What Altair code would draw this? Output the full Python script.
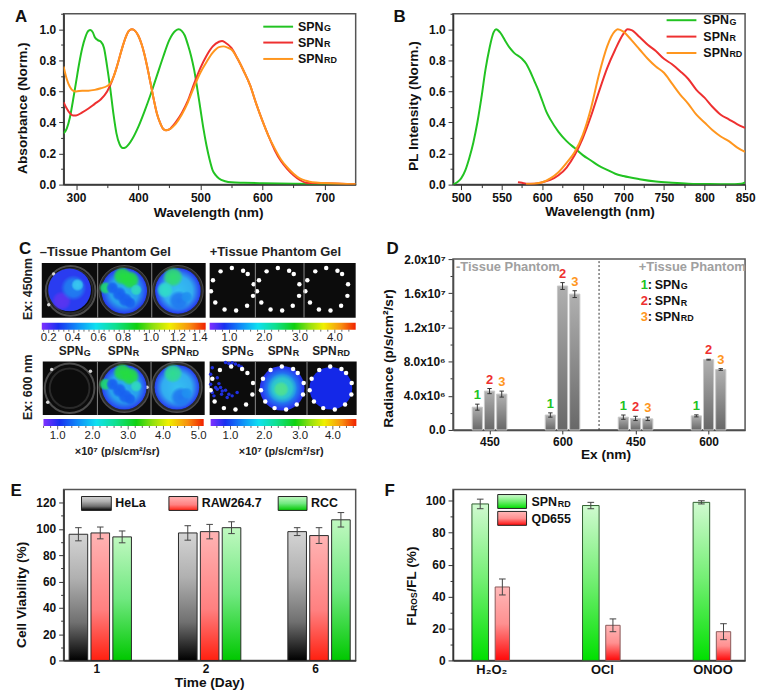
import altair as alt
import pandas as pd

FONT = "Liberation Sans"
GREEN, RED, ORANGE = "#22c322", "#ee3030", "#ff961e"
FRAME = "#555555"
W, H, H2 = 294, 172, 187

# Panel A
a_g_x = [280,285,290,295,300,305,310,315,320,323,327,330,335,340,345,350,355,360,365,370,375,380,385,390,400,410,420,430,440,450,460,465,470,475,480,485,490,495,500,505,510,515,520,525,530,540,550,570,600,650,700,750]
a_g_y = [.33,.36,.43,.54,.66,.78,.88,.95,.99,.995,.98,.95,.93,.92,.88,.76,.62,.46,.33,.26,.235,.24,.26,.29,.37,.47,.58,.70,.82,.93,.99,1.0,.99,.96,.90,.83,.74,.62,.49,.36,.25,.16,.09,.06,.04,.022,.015,.012,.009,.005,.003,0]
a_r_x = [280,285,290,295,300,310,320,330,340,350,355,360,365,370,375,380,385,390,395,400,405,410,415,420,425,430,435,440,445,450,455,460,470,480,490,500,510,520,530,535,540,550,560,570,580,590,600,610,620,630,640,650,660,670,680,700,750]
a_r_y = [.53,.49,.46,.445,.445,.465,.49,.52,.55,.60,.64,.69,.75,.82,.89,.95,.99,1.0,.99,.96,.91,.84,.75,.65,.55,.46,.40,.36,.35,.355,.375,.40,.46,.54,.65,.75,.83,.89,.92,.925,.915,.88,.81,.73,.64,.52,.41,.31,.22,.15,.10,.06,.03,.012,.01,.008,.002]
a_d_x = [280,285,290,295,300,310,320,330,340,350,355,360,365,370,375,380,385,390,395,400,405,410,415,420,425,430,435,440,445,450,455,460,470,480,490,500,510,520,530,537,545,550,560,570,580,590,600,610,620,630,640,650,660,670,680,700,750]
a_d_y = [.76,.68,.63,.605,.60,.605,.605,.61,.62,.635,.65,.69,.75,.82,.89,.95,.99,1.0,.99,.96,.91,.84,.75,.65,.55,.46,.40,.36,.35,.355,.37,.39,.45,.53,.63,.72,.79,.85,.885,.89,.88,.87,.81,.73,.64,.52,.41,.31,.23,.16,.11,.07,.04,.025,.015,.01,.002]

# Panel B
b_g_x = [490,495,500,505,510,515,520,525,530,535,540,543,548,555,560,565,575,580,585,590,595,600,605,610,620,630,640,650,660,670,680,690,700,720,740,760,780,800,830,845,850]
b_g_y = [0,.015,.04,.09,.17,.27,.40,.56,.74,.88,.98,1.0,.98,.92,.88,.85,.81,.78,.73,.67,.61,.54,.47,.42,.34,.28,.235,.19,.155,.12,.095,.07,.055,.035,.02,.012,.006,.004,.002,.006,.015]
b_r_x = [570,575,580,590,600,610,620,630,640,650,660,670,680,690,700,705,710,720,730,740,750,760,770,780,790,800,810,820,830,840,850]
b_r_y = [.015,.012,.006,.006,.015,.03,.06,.11,.19,.30,.44,.60,.75,.87,.97,1.0,.995,.95,.90,.86,.81,.775,.73,.68,.61,.56,.50,.45,.42,.39,.365]
b_d_x = [580,590,600,610,620,630,640,650,660,670,680,690,693,700,710,720,730,740,750,760,770,780,790,800,810,820,830,840,850]
b_d_y = [.004,.006,.015,.04,.08,.14,.21,.32,.49,.71,.89,.99,1.0,.985,.93,.87,.81,.76,.72,.65,.58,.52,.45,.40,.35,.31,.28,.24,.21]

# Panel D
d_groups = [0,0,0,1,1,1,2,2,2,3,3,3]
d_slot = [-1,0,1]*4
d_val = [2.67e6,4.55e6,4.2e6,1.75e6,16.85e6,15.9e6,1.5e6,1.35e6,1.3e6,1.65e6,8.23e6,7.08e6]
d_err = [.35e6,.3e6,.35e6,.25e6,.4e6,.4e6,.25e6,.25e6,.2e6,.12e6,.05e6,.1e6]
d_num = ["1","2","3"]*4
d_col = [GREEN,RED,ORANGE]*4
d_labels = ["450","600","450","600"]

# Panel E
e_val = [96,97,94,97,98,101,98,95,107]
e_err = [5,4.5,4.5,5.5,5.5,4.5,3,6,5.5]
e_days = ["1","2","6"]
e_names = ["HeLa","RAW264.7","RCC"]

# Panel F
f_green = [98,97,99]
f_green_err = [3,2,1]
f_red = [46,22,18]
f_red_err = [5,4,5]
f_names = ["H₂O₂","OCl","ONOO"]


def grad(stops):
    return alt.LinearGradient(gradient="linear", x1=0, x2=0, y1=0, y2=1,
                              stops=[alt.GradientStop(color=c, offset=o) for o, c in stops])

G_GRAY = grad([(0,"#d4d4d4"),(.35,"#b0b0b0"),(.7,"#707070"),(1,"#000000")])
G_RED = grad([(0,"#ffb4b4"),(.6,"#ff8080"),(1,"#ff2010")])
G_GREEN = grad([(0,"#c0f8c0"),(.5,"#70e880"),(1,"#00c800")])
F_GREEN = grad([(0,"#d0fad0"),(.5,"#70ee70"),(1,"#00e000")])
F_RED = grad([(0,"#ffb8b8"),(.5,"#ff9090"),(1,"#ff0808")])
D_GRAY = grad([(0,"#b0b0b0"),(1,"#686868")])
RAINBOW = alt.LinearGradient(gradient="linear", x1=0, x2=1, y1=0, y2=0, stops=[
    alt.GradientStop(color=c, offset=o) for o, c in
    [(0,"#8030ff"),(.1,"#1830f0"),(.22,"#1090f8"),(.33,"#10e0f0"),(.45,"#10e090"),(.58,"#10d010"),(.68,"#90e010"),(.78,"#f0f000"),(.9,"#f89010"),(1,"#f02000")]])


def one():
    return alt.Chart(pd.DataFrame({"a": [0]}))


class Ann:
    def __init__(self, left, top):
        self.l, self.t = left, top

    def text(self, x, y, s, size=13, bold=True, color="#111111", align="left", angle=0):
        return one().mark_text(text=s, font=FONT, fontSize=size, fontWeight="bold" if bold else "normal",
                               color=color, align=align, baseline="middle", angle=angle).encode(
            x=alt.value(x - self.l), y=alt.value(y - self.t))

    def spn(self, x, y, sub, size=12.5, subsize=9, color="#111111", align="left"):
        wm = 2.056 * size
        ws = {"G": .778, "R": .722, "RD": 1.444}[sub] * subsize
        if align == "center":
            x = x - (wm + ws) / 2
        return [self.text(x, y, "SPN", size, color=color),
                self.text(x + wm + .5, y + 1.5, sub, subsize, color=color)]

    def line(self, x1, x2, y, color, width=2):
        return one().mark_rule(color=color, strokeWidth=width).encode(
            x=alt.value(x1 - self.l), x2=alt.value(x2 - self.l), y=alt.value(y - self.t))

    def swatch(self, x1, x2, y1, y2, fill):
        return one().mark_rect(fill=fill, stroke="#222222", strokeWidth=1, opacity=1).encode(
            x=alt.value(x1 - self.l), x2=alt.value(x2 - self.l),
            y=alt.value(y1 - self.t), y2=alt.value(y2 - self.t))


def ticked(values, label_step, fmt=None):
    test = f"abs(datum.value/{label_step}-round(datum.value/{label_step}))<0.001"
    return alt.Axis(values=values, title=None, labelOverlap=False, format=fmt,
                    labelExpr=f"{test} ? datum.label : ''",
                    tickSize={"condition": {"test": test, "value": 5}, "value": 3})


def curve(xs, ys, color):
    df = pd.DataFrame({"x": xs, "y": ys})
    return alt.Chart(df).mark_line(color=color, strokeWidth=2, interpolate="monotone", clip=True)


def spectrum(series, xdom, xticks, xstep):
    layers = []
    for xs, ys, c in series:
        layers.append(curve(xs, ys, c).encode(
            x=alt.X("x:Q", scale=alt.Scale(domain=xdom, nice=False, zero=False), axis=ticked(xticks, xstep, "d")),
            y=alt.Y("y:Q", scale=alt.Scale(domain=[0, 1.1], nice=False),
                    axis=ticked([i / 10 for i in range(0, 12)], .2, ".1f"))))
    return layers


def errs(df, sx, sy, xa, ya, color):
    base = alt.Chart(df).mark_rule(color=color, strokeWidth=1)
    return [base.encode(x=alt.X("cx:Q", scale=sx, axis=xa), y=alt.Y("lo:Q", scale=sy, axis=ya), y2="hi:Q"),
            base.encode(x=alt.X("c1:Q", scale=sx, axis=xa), x2="c2:Q", y=alt.Y("hi:Q", scale=sy, axis=ya)),
            base.encode(x=alt.X("c1:Q", scale=sx, axis=xa), x2="c2:Q", y=alt.Y("lo:Q", scale=sy, axis=ya))]


# ---------- A
an = Ann(62, 12)
a_layers = spectrum([(a_g_x, a_g_y, GREEN), (a_r_x, a_r_y, RED), (a_d_x, a_d_y, ORANGE)],
                    [280, 750], [300 + 50 * i for i in range(0, 9)], 100)
a_layers += [an.text(13, 15.5, "A", 17),
             an.text(21, 107, "Absorbance (Norm.)", 13.8, align="center", angle=270),
             an.text(208, 213, "Wavelength (nm)", 13.8, align="center")]
for y, c, sub in [(25, GREEN, "G"), (41, RED, "R"), (57.5, ORANGE, "RD")]:
    a_layers += [an.line(263, 293, y, c)] + an.spn(298, y, sub)
chart_a = alt.layer(*a_layers).properties(width=W, height=H)

# ---------- B
an = Ann(454, 12)
b_layers = spectrum([(b_g_x, b_g_y, GREEN), (b_r_x, b_r_y, RED), (b_d_x, b_d_y, ORANGE)],
                    [490, 850], [500 + 25 * i for i in range(0, 15)], 50)
b_layers += [an.text(394, 15.5, "B", 17),
             an.text(415, 105, "PL Intensity (Norm.)", 13.8, align="center", angle=270),
             an.text(602, 212, "Wavelength (nm)", 13.8, align="center")]
for y, c, sub in [(18.5, GREEN, "G"), (35, RED, "R"), (51.5, ORANGE, "RD")]:
    b_layers += [an.line(669, 699, y, c)] + an.spn(706, y, sub)
chart_b = alt.layer(*b_layers).properties(width=W, height=H)

# ---------- C (drawn on a scale that is the figure's own pixel grid)
cx = alt.Scale(domain=[62, 356], nice=False, zero=False)
cy = alt.Scale(domain=[431, 244], nice=False, zero=False)

panels = [(40, 205, 263, 318), (209, 356, 263, 318), (41, 204, 362, 416), (209, 357, 362, 416)]
dividers = [(96.3, 263, 318), (150.7, 263, 318), (255, 263, 318), (304, 263, 318),
            (96, 362, 416), (150, 362, 416), (255, 362, 416), (307, 362, 416)]
bars_c = [(40, 205, 323, 330), (209, 356, 323, 330), (41.7, 203, 420, 427), (210, 356.7, 420, 427)]
rings = [(69, 291, 50), (123, 291, 50), (177, 291, 50), (68, 389, 50), (123, 388, 50), (176, 388, 50)]
rings2 = [(69, 291, 45), (123, 291, 48), (177, 291, 48), (68, 389, 40), (123, 388, 47), (176, 388, 47)]
specks = [(52, 274), (47, 305), (50, 370), (46, 403), (89, 372), (146, 388)]

top_dots = [(45,40),(79,30),(113,38),(127,48),(145,79),(143,114),(125,144),(92,158),(57,155),(29,134),(16,100),(22,67),
            (184,40),(218,30),(252,38),(266,48),(283,79),(282,114),(263,144),(231,158),(196,155),(168,134),(155,100),(161,67),
            (331,40),(364,30),(398,38),(412,48),(430,79),(428,114),(409,144),(377,158),(342,155),(315,134),(301,100),(307,67)]
bot_dots = [(43,47),(77,36),(110,44),(126,56),(143,86),(141,121),(122,151),(90,166),(55,162),(27,142),(15,108),(20,73),
            (196,47),(230,36),(264,44),(278,56),(296,86),(294,121),(275,151),(243,166),(208,162),(180,142),(167,108),(173,73),
            (343,47),(376,36),(410,44),(424,56),(441,86),(440,121),(421,151),(390,166),(355,162),(327,142),(314,108),(320,73)]
scatter = [(60,24),(70,27),(80,25),(90,29),(100,33),(108,38),(75,32),(15,90),(20,115),(35,105),(45,100),(50,110),(70,120),
           (80,125),(25,125),(60,108),(15,60),(40,88),(30,100),(65,130),(95,115),(20,40),(35,70),(48,120)]
solid = [(68, 290, 43, "#2a3cf0"), (123, 291, 46, "#2840f0"), (177, 291, 46, "#2840f0"),
         (123, 388, 45, "#2840f0"), (176, 388, 45, "#2840f0"),
         (282, 389, 45, "#2838f0"), (331, 389, 43, "#1428e8")]
soft = [
    (60, 301, 20, "#5a34f0"), (72, 288, 26, "#2080f0"), (76, 285, 13, "#38c8f0"),
    (123, 291, 45, "#28b0ec"), (104, 288, 13, "#20d870"), (121, 276, 19, "#24dc40"), (129, 280, 19, "#24dc40"),
    (135, 290, 12, "#30d8c0"), (111, 288, 13, "#1860f0"), (118, 294, 15, "#1860f0"), (124, 300, 15, "#1860f0"), (129, 303, 12, "#1860f0"),
    (177, 291, 45, "#34c0f0"), (172, 277, 21, "#30dc70"), (164, 290, 17, "#30dcc8"), (178, 301, 21, "#2078f0"), (186, 297, 12, "#2090f0"),
    (123, 388, 45, "#28b0ec"), (104, 385, 13, "#20d870"), (121, 373, 19, "#24dc40"), (129, 377, 19, "#24dc40"),
    (135, 387, 12, "#30d8c0"), (111, 385, 13, "#1860f0"), (118, 391, 15, "#1860f0"), (124, 397, 15, "#1860f0"), (129, 400, 12, "#1860f0"),
    (176, 388, 45, "#34c0f0"), (172, 374, 20, "#30dc90"), (180, 398, 21, "#2078f0"), (186, 394, 12, "#2090f0"),
    (282, 389, 42, "#2090f0"), (282, 389, 30, "#30d0c8"), (281, 390, 16, "#50e090"),
]
cbar_labels = [
    (338, [(47,"0.2"),(71,"0.4"),(97,"0.6"),(122,"0.8"),(150,"1.0"),(177,"1.2"),(199,"1.4")]),
    (338, [(229,"1.0"),(264,"2.0"),(300,"3.0"),(335,"4.0")]),
    (437, [(56,"1.0"),(91,"2.0"),(127,"3.0"),(162,"4.0"),(198,"5.0")]),
    (437, [(230,"1.0"),(264,"2.0"),(300,"3.0"),(333,"4.0")]),
]


def rect_layer(rows, **mark):
    df = pd.DataFrame(rows, columns=["x", "x2", "y", "y2"])
    return alt.Chart(df).mark_rect(**mark).encode(
        x=alt.X("x:Q", scale=cx, axis=None), x2="x2:Q", y=alt.Y("y:Q", scale=cy, axis=None), y2="y2:Q")


def pts(rows, cols=("x", "y", "d")):
    df = pd.DataFrame(rows, columns=list(cols))
    df["s"] = df["d"] ** 2
    return df


def sym(df, **mark):
    return alt.Chart(df).mark_point(opacity=1, **mark).encode(
        x=alt.X("x:Q", scale=cx, axis=None), y=alt.Y("y:Q", scale=cy, axis=None),
        size=alt.Size("s:Q", scale=None, legend=None))


c_layers = [rect_layer(panels, fill="#0c0c0c", opacity=1)]
c_layers.append(sym(pts(rings), filled=False, stroke="#4c4c4c", strokeWidth=2))
c_layers.append(sym(pts(rings2), filled=False, stroke="#2a2a2a", strokeWidth=2))
c_layers.append(sym(pts([(x, y, 3.5) for x, y in specks]), filled=True, color="#d8d8d8"))
c_layers.append(sym(pts([(x / 3 + 205, y / 3 + 355, 3.5) for x, y in scatter]), filled=True, color="#2030e0"))
for x, y, d, col in solid:
    c_layers.append(sym(pts([(x, y, d)]), filled=True, fill=col))
for x, y, d, col in soft:
    rgb = tuple(int(col[i:i + 2], 16) for i in (1, 3, 5))
    g = alt.RadialGradient(gradient="radial", stops=[
        alt.GradientStop(color=f"rgba({rgb[0]},{rgb[1]},{rgb[2]},1)", offset=0),
        alt.GradientStop(color=f"rgba({rgb[0]},{rgb[1]},{rgb[2]},.85)", offset=.65),
        alt.GradientStop(color=f"rgba({rgb[0]},{rgb[1]},{rgb[2]},0)", offset=1)])
    c_layers.append(sym(pts([(x, y, d)]), filled=True, fill=g))
dots = [(x / 3 + 205, y / 3 + 258, 4.5) for x, y in top_dots] + [(x / 3 + 205, y / 3 + 355, 4.5) for x, y in bot_dots]
c_layers.append(sym(pts(dots), filled=True, color="#ffffff"))
c_layers.append(alt.Chart(pd.DataFrame(dividers, columns=["x", "y", "y2"])).mark_rule(color="#8a8a8a", strokeWidth=1).encode(
    x=alt.X("x:Q", scale=cx, axis=None), y=alt.Y("y:Q", scale=cy, axis=None), y2="y2:Q"))
c_layers.append(rect_layer(bars_c, fill=RAINBOW, opacity=1))
an = Ann(62, 244)
tick_rows = []
for (yl, labs), (x1, x2, y1, y2) in zip(cbar_labels, bars_c):
    xs = [p for p, _ in labs]
    step = (xs[-1] - xs[0]) / (len(xs) - 1) / 5
    k = -12
    while k < 60:
        p = xs[0] + k * step
        if x1 <= p <= x2:
            tick_rows.append((p, y2, y2 + (3.5 if k % 5 == 0 else 2)))
        k += 1
    for p, s in labs:
        c_layers.append(an.text(p, yl, s, 11.5, bold=False, color="#222222", align="center"))
c_layers.append(alt.Chart(pd.DataFrame(tick_rows, columns=["x", "y", "y2"])).mark_rule(color="#444444", strokeWidth=.8).encode(
    x=alt.X("x:Q", scale=cx, axis=None), y=alt.Y("y:Q", scale=cy, axis=None), y2="y2:Q"))
c_layers += [an.text(17, 249, "C", 17),
             an.text(38, 251.5, "–Tissue Phantom Gel", 13, color="#222222"),
             an.text(209, 251.5, "+Tissue Phantom Gel", 13, color="#222222"),
             an.text(26, 289, "Ex: 450nm", 12.5, align="center", angle=270, color="#222222"),
             an.text(26, 388, "Ex: 600 nm", 12.5, align="center", angle=270, color="#222222"),
             an.text(116, 453, "×10⁷ (p/s/cm²/sr)", 11, align="center", color="#222222"),
             an.text(281, 453, "×10⁷ (p/s/cm²/sr)", 11, align="center", color="#222222")]
for x, sub in [(73, "G"), (122, "R"), (179, "RD"), (237, "G"), (283, "R"), (331, "RD")]:
    c_layers += an.spn(x, 352, sub, 12, 9, color="#222222", align="center")
chart_c = alt.layer(*c_layers).properties(width=W, height=H2, view=alt.ViewConfig(stroke=None))

# ---------- D
an = Ann(454, 244)
dx = alt.Scale(domain=[-.5, 3.5], nice=False, zero=False)
dy = alt.Scale(domain=[0, 2e7], range=[H2, 15], nice=False)
d_df = pd.DataFrame({"g": d_groups, "slot": d_slot, "v": d_val, "e": d_err, "n": d_num, "c": d_col})
d_df["cx"] = d_df.g + d_df.slot * .167
d_df["x1"], d_df["x2"] = d_df.cx - .07, d_df.cx + .07
d_df["lo"], d_df["hi"] = d_df.v - d_df.e, d_df.v + d_df.e
d_df["c1"], d_df["c2"] = d_df.cx - .03, d_df.cx + .03
d_df["zero"] = 0
labs = "['0.0','4.0x10⁶','8.0x10⁶','1.2x10⁷','1.6x10⁷','2.0x10⁷'][datum.value/4000000]"
d_frame = pd.DataFrame({"x": [-.5], "x2": [3.5], "y": [0], "y2": [2e7]})
d_xa = alt.Axis(values=[0, 1, 2, 3], title=None, labelOverlap=False,
                labelExpr="['450','600','450','600'][datum.value]", tickSize=4)
d_ya = alt.Axis(values=[i * 2e6 for i in range(11)], title=None, labelOverlap=False,
                labelExpr=f"datum.value%4000000==0 ? {labs} : ''",
                tickSize={"condition": {"test": "datum.value%4000000==0", "value": 5}, "value": 3})
d_layers = [
    alt.Chart(d_frame).mark_rect(fill=None, stroke=FRAME, strokeWidth=1.5).encode(
        x=alt.X("x:Q", scale=dx, axis=d_xa), x2="x2:Q", y=alt.Y("y:Q", scale=dy, axis=d_ya), y2="y2:Q"),
    alt.Chart(pd.DataFrame({"x": [1.5], "y": [0], "y2": [2e7]})).mark_rule(color="#333333", strokeDash=[2, 2], strokeWidth=1).encode(
        x=alt.X("x:Q", scale=dx, axis=d_xa), y=alt.Y("y:Q", scale=dy, axis=d_ya), y2="y2:Q"),
    alt.Chart(d_df).mark_rect(fill=D_GRAY, stroke="#c8c8c8", strokeWidth=1, opacity=1).encode(
        x=alt.X("x1:Q", scale=dx, axis=d_xa), x2="x2:Q", y=alt.Y("zero:Q", scale=dy, axis=d_ya), y2="v:Q"),
] + errs(d_df, dx, dy, d_xa, d_ya, "#333333") + [
    alt.Chart(d_df).mark_text(font=FONT, fontWeight="bold", fontSize=13, baseline="bottom", dy=-2).encode(
        x=alt.X("cx:Q", scale=dx, axis=d_xa), y=alt.Y("hi:Q", scale=dy, axis=d_ya), text="n:N", color=alt.Color("c:N", scale=None)),
    an.text(387, 249, "D", 17),
    an.text(390, 359, "Radiance (p/s/cm²/sr)", 13.8, align="center", angle=270),
    an.text(608, 456, "Ex (nm)", 13.8, align="center"),
    an.text(457, 267, "-Tissue Phantom", 13, color="#a0a0a0"),
    an.text(641, 267, "+Tissue Phantom", 13, color="#a0a0a0"),
]
for y, n, c, sub in [(285, "1", GREEN, "G"), (301.5, "2", RED, "R"), (317, "3", ORANGE, "RD")]:
    d_layers += [an.text(643, y, n, 13, color=c), an.text(650, y, ":", 13)] + an.spn(657, y, sub)
chart_d = alt.layer(*d_layers).properties(width=W, height=H2, view=alt.ViewConfig(stroke=None))

# ---------- E
an = Ann(62, 491)
ex = alt.Scale(domain=[-.335, 2.335], nice=False, zero=False)
ey = alt.Scale(domain=[0, 130], nice=False)
e_df = pd.DataFrame({"g": [i for i in range(3) for _ in range(3)], "slot": [-1, 0, 1] * 3, "v": e_val, "e": e_err})
e_df["cx"] = e_df.g + e_df.slot * .2
e_df["x1"], e_df["x2"] = e_df.cx - .085, e_df.cx + .085
e_df["lo"], e_df["hi"] = e_df.v - e_df.e, e_df.v + e_df.e
e_df["c1"], e_df["c2"] = e_df.cx - .03, e_df.cx + .03
e_df["zero"] = 0
e_xa = alt.Axis(values=[0, 1, 2], title=None, ticks=False, labelOverlap=False, labelOffset=-4,
                labelExpr="['1','2','6'][datum.value]")
e_ya = ticked(list(range(0, 130, 10)), 20, "d")
e_layers = []
for slot, fill in [(-1, G_GRAY), (0, G_RED), (1, G_GREEN)]:
    e_layers.append(alt.Chart(e_df[e_df.slot == slot]).mark_rect(fill=fill, stroke="#2a2a2a", strokeWidth=1, opacity=1).encode(
        x=alt.X("x1:Q", scale=ex, axis=e_xa), x2="x2:Q",
        y=alt.Y("zero:Q", scale=ey, axis=e_ya), y2="v:Q"))
e_layers += errs(e_df, ex, ey, e_xa, e_ya, "#444444") + [
    an.text(8.5, 492, "E", 17),
    an.text(20, 597, "Cell Viability (%)", 13.8, align="center", angle=270),
    an.text(209, 686, "Time (Day)", 13.8, align="center"),
]
for (x1, x2, tx, nm, fill) in [(80, 110, 114, "HeLa", G_GRAY), (168, 197, 201, "RAW264.7", G_RED), (278, 307, 311, "RCC", G_GREEN)]:
    e_layers += [an.swatch(x1, x2, 498, 512, fill), an.text(tx, 505, nm, 12.5)]
chart_e = alt.layer(*e_layers).properties(width=W, height=H)

# ---------- F
an = Ann(454, 491)
fx = alt.Scale(domain=[-.346, 2.295], nice=False, zero=False)
fy = alt.Scale(domain=[0, 107], nice=False)
f_df = pd.DataFrame({"g": [0, 1, 2] * 2, "slot": [-1] * 3 + [1] * 3, "v": f_green + f_red, "e": f_green_err + f_red_err})
f_df["cx"] = f_df.g + f_df.slot * .1
f_df["hw"] = [.075] * 3 + [.065] * 3
f_df["x1"], f_df["x2"] = f_df.cx - f_df.hw, f_df.cx + f_df.hw
f_df["lo"], f_df["hi"] = f_df.v - f_df.e, f_df.v + f_df.e
f_df["c1"], f_df["c2"] = f_df.cx - .03, f_df.cx + .03
f_df["zero"] = 0
f_xa = alt.Axis(values=[0, 1, 2], title=None, ticks=False, labelOverlap=False, labelFontSize=13,
                labelExpr="['H₂O₂','OCl','ONOO'][datum.value]")
f_ya = ticked(list(range(0, 110, 10)), 20, "d")
f_layers = []
for slot, fill, st in [(-1, F_GREEN, "#2f5f2f"), (1, F_RED, "#8a5a5a")]:
    f_layers.append(alt.Chart(f_df[f_df.slot == slot]).mark_rect(fill=fill, stroke=st, strokeWidth=1, opacity=1).encode(
        x=alt.X("x1:Q", scale=fx, axis=f_xa), x2="x2:Q",
        y=alt.Y("zero:Q", scale=fy, axis=f_ya), y2="v:Q"))
f_layers += errs(f_df, fx, fy, f_xa, f_ya, "#444444") + [
    an.text(385, 492, "F", 17),
    an.text(413, 628, "FL", 13.8, angle=270),
    an.text(415, 613, "ROS", 8.5, angle=270),
    an.text(413, 594, "/FL (%)", 13.8, angle=270),
    an.swatch(499, 528, 496, 510, F_GREEN), an.text(533, 504, "SPN", 12.5), an.text(559.5, 505.5, "RD", 9),
    an.swatch(499, 528, 513, 527, F_RED), an.text(533, 521, "QD655", 12.5),
]
chart_f = alt.layer(*f_layers).properties(width=W, height=H)

chart = alt.concat(chart_a, chart_b, chart_c, chart_d, chart_e, chart_f, columns=2,
                   spacing={"row": 60, "column": 98}, bounds="flush", align="each").properties(
    padding={"left": 1, "top": -3.5, "right": 0, "bottom": 0}
).configure_view(stroke=FRAME, strokeWidth=1.5).configure_axis(
    grid=False, labelFont=FONT, labelFontWeight="bold", labelFontSize=12, labelColor="#111111",
    domainColor="#333333", domainWidth=1.5, tickColor="#333333", tickWidth=1, labelPadding=3, labelFlush=False,
    labelOverlap=False
)

chart.save("out.html", embed_options={"renderer": "svg", "actions": False})
